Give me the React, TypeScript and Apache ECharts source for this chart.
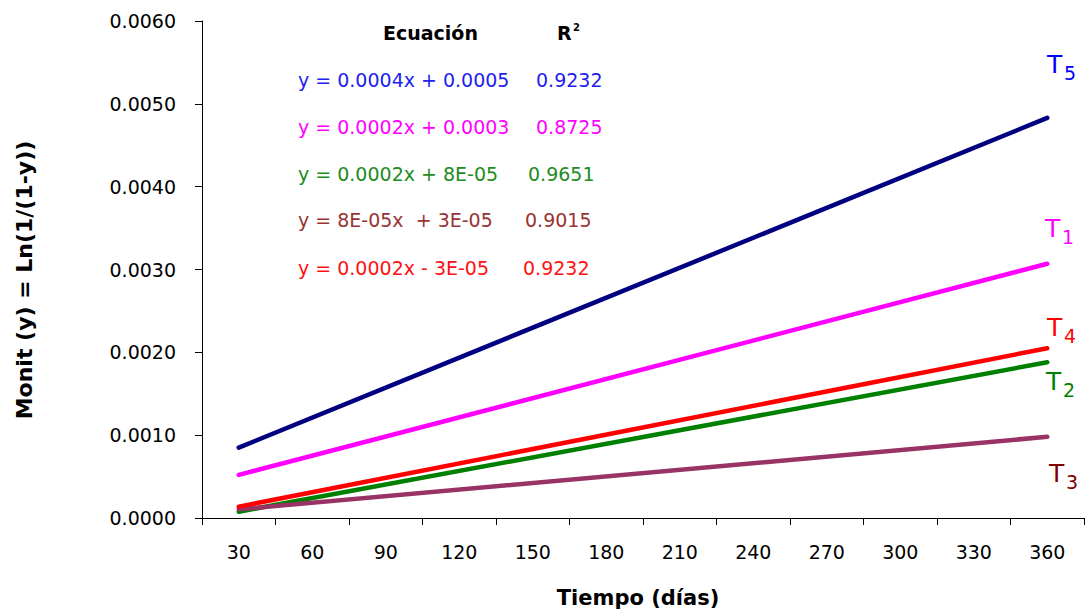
import React, { useEffect, useRef } from 'react';
import * as echarts from 'echarts';

const days = ['30', '60', '90', '120', '150', '180', '210', '240', '270', '300', '330', '360'];
const gap = [null, null, null, null, null, null, null, null, null, null];
const t5Values = [0.00085, ...gap, 0.00483];
const t1Values = [0.00052, ...gap, 0.00307];
const t2Values = [0.000076, ...gap, 0.00188];
const t3Values = [0.000105, ...gap, 0.00098];
const t4Values = [0.000137, ...gap, 0.00205];

const equations = [
  'y = 0.0004x + 0.0005',
  'y = 0.0002x + 0.0003',
  'y = 0.0002x + 8E-05',
  'y = 8E-05x  + 3E-05',
  'y = 0.0002x - 3E-05',
];
const r2Values = ['0.9232', '0.8725', '0.9651', '0.9015', '0.9232'];
const eqColors = ['#2222EE', '#FF00FF', '#228B22', '#993333', '#FF1111'];

const FONT = 'DejaVu Sans';

export default function App() {
  const ref = useRef<HTMLDivElement>(null);
  useEffect(() => {
    if (!ref.current) return;
    const chart = echarts.init(ref.current, null, { renderer: 'svg' });
    const eqRowsY = [81, 128, 175, 221, 269];
    const r2X = [536, 536, 528, 525, 523];
    const graphics: any[] = [];
    equations.forEach((eq, i) => {
      graphics.push({
        type: 'text', left: 298, top: eqRowsY[i] - 11,
        style: { text: eq, fill: eqColors[i], font: `19px ${FONT}` },
      });
      graphics.push({
        type: 'text', left: r2X[i], top: eqRowsY[i] - 11,
        style: { text: r2Values[i], fill: eqColors[i], font: `19px ${FONT}` },
      });
    });
    graphics.push({ type: 'text', left: 383, top: 23, style: { text: 'Ecuación', fill: '#000', font: `bold 19px ${FONT}` } });
    graphics.push({ type: 'text', left: 557, top: 23, style: { text: 'R', fill: '#000', font: `bold 19px ${FONT}` } });
    graphics.push({ type: 'text', left: 573, top: 22, style: { text: '2', fill: '#000', font: `bold 10px ${FONT}` } });

    const tLabels = [
      { n: '5', x: 1047, y: 55, c: '#0000FF' },
      { n: '1', x: 1045, y: 219, c: '#FF00FF' },
      { n: '4', x: 1047, y: 318, c: '#FF0000' },
      { n: '2', x: 1046, y: 372, c: '#008000' },
      { n: '3', x: 1049, y: 464, c: '#800000' },
    ];
    tLabels.forEach((t) => {
      graphics.push({ type: 'text', left: t.x, top: t.y - 3, style: { text: 'T', fill: t.c, font: `25px ${FONT}` } });
      graphics.push({ type: 'text', left: t.x + 17, top: t.y + 8, style: { text: t.n, fill: t.c, font: `19px ${FONT}` } });
    });

    graphics.push({
      type: 'text', x: 24, y: 280, rotation: Math.PI / 2,
      style: { text: 'Monit (y) = Ln(1/(1-y))', fill: '#000', font: `bold 22px ${FONT}`, textAlign: 'center', textVerticalAlign: 'middle' },
    });
    graphics.push({
      type: 'text', x: 638, y: 598,
      style: { text: 'Tiempo (días)', fill: '#000', font: `bold 21px ${FONT}`, textAlign: 'center', textVerticalAlign: 'middle' },
    });

    const mk = (name: string, data: any[], color: string) => ({
      name, type: 'line', data, connectNulls: true, showSymbol: false, symbol: 'none',
      lineStyle: { color, width: 4.5, cap: 'round' }, itemStyle: { color },
    });

    chart.setOption({
      animation: false,
      grid: { left: 202, top: 21, width: 882, height: 497, containLabel: false },
      xAxis: {
        type: 'category', data: days, boundaryGap: true,
        axisLine: { lineStyle: { color: '#000', width: 1 } },
        axisTick: { show: true, alignWithLabel: false, length: 7, inside: false, lineStyle: { color: '#000' } },
        axisLabel: { color: '#000', fontSize: 19, fontFamily: FONT, margin: 24 },
        splitLine: { show: false },
      },
      yAxis: {
        type: 'value', min: 0, max: 0.006, interval: 0.001,
        axisLine: { show: true, lineStyle: { color: '#000', width: 1 } },
        axisTick: { show: true, length: 7, lineStyle: { color: '#000' } },
        axisLabel: { color: '#000', fontSize: 19, fontFamily: FONT, margin: 26, formatter: (v: number) => v.toFixed(4) },
        splitLine: { show: false },
      },
      series: [
        mk('T5', t5Values, '#000080'),
        mk('T1', t1Values, '#FF00FF'),
        mk('T2', t2Values, '#008000'),
        mk('T3', t3Values, '#993366'),
        mk('T4', t4Values, '#FF0000'),
      ],
      graphic: graphics,
    });
    return () => chart.dispose();
  }, []);
  return <div ref={ref} style={{ position: 'absolute', left: 0, top: 0, width: 1086, height: 616, background: '#fff' }} />;
}
